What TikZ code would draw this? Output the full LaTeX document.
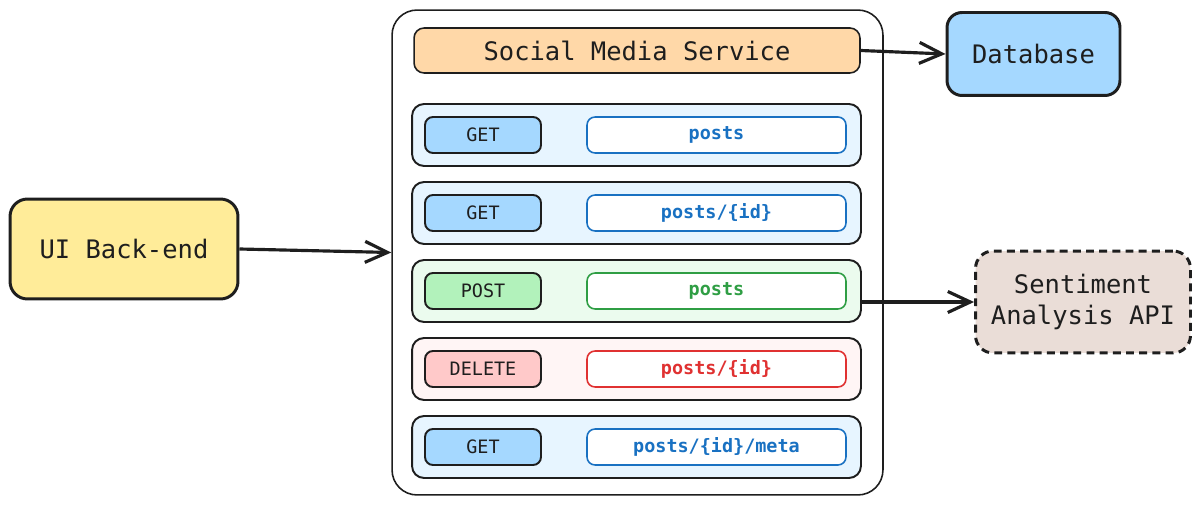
\documentclass[tikz,border=0pt]{standalone}
\usepackage{fontspec}
\setmainfont{DejaVu Sans Mono}
\usetikzlibrary{arrows.meta}

\definecolor{ink}{HTML}{1E1E1E}
\definecolor{orangefill}{HTML}{FFD8A8}
\definecolor{yellowfill}{HTML}{FFEC99}
\definecolor{bluefill}{HTML}{A5D8FF}
\definecolor{bluerow}{HTML}{E7F5FF}
\definecolor{bluetext}{HTML}{1971C2}
\definecolor{greenfill}{HTML}{B2F2BB}
\definecolor{greenrow}{HTML}{EBFBEE}
\definecolor{greentext}{HTML}{2F9E44}
\definecolor{redfill}{HTML}{FFC9C9}
\definecolor{redrow}{HTML}{FFF5F5}
\definecolor{redtext}{HTML}{E03131}
\definecolor{brownfill}{HTML}{EADDD7}

\begin{document}
\begin{tikzpicture}[x=0.02cm,y=-0.02cm,
    every node/.style={text=ink},
    bigbox/.style={draw=ink,line width=1.7pt,rounded corners=0.35cm,font=\fontsize{14.5}{18}\selectfont,align=center},
    rowbox/.style={draw=ink,line width=1.1pt,rounded corners=0.24cm,minimum width=8.98cm,minimum height=1.24cm},
    methbox/.style={draw=ink,line width=1.1pt,rounded corners=0.16cm,minimum width=2.32cm,minimum height=0.72cm,font=\fontsize{10.5}{12}\selectfont},
    pathbox/.style={draw=#1,text=#1,fill=white,line width=0.9pt,rounded corners=0.16cm,minimum width=5.18cm,minimum height=0.72cm,font=\fontsize{10.5}{12}\selectfont\bfseries},
    link/.style={draw=ink,line width=1.8pt,-{Straight Barb[length=0.45cm,width=0.42cm]}}]
    \useasboundingbox (0,0) rectangle (1200,506);

    % Service container
    \node[draw=ink,line width=0.9pt,rounded corners=0.5cm,minimum width=9.82cm,minimum height=9.7cm] (container) at (637.5,252.5) {};
    \node[draw=ink,fill=orangefill,line width=0.9pt,rounded corners=0.2cm,minimum width=8.92cm,minimum height=0.9cm,font=\fontsize{14.5}{18}\selectfont] (service) at (637,50.5) {Social Media Service};

    % Endpoints
    \node[rowbox,fill=bluerow] (row1) at (636.5,135) {};
    \node[methbox,fill=bluefill] (meth1) at (483,135) {GET};
    \node[pathbox=bluetext] (path1) at (716.5,135) {posts};

    \node[rowbox,fill=bluerow] (row2) at (636.5,213) {};
    \node[methbox,fill=bluefill] (meth2) at (483,213) {GET};
    \node[pathbox=bluetext] (path2) at (716.5,213) {posts/\{id\}};

    \node[rowbox,fill=greenrow] (row3) at (636.5,291) {};
    \node[methbox,fill=greenfill] (meth3) at (483,291) {POST};
    \node[pathbox=greentext] (path3) at (716.5,291) {posts};

    \node[rowbox,fill=redrow] (row4) at (636.5,369) {};
    \node[methbox,fill=redfill] (meth4) at (483,369) {DELETE};
    \node[pathbox=redtext] (path4) at (716.5,369) {posts/\{id\}};

    \node[rowbox,fill=bluerow] (row5) at (636.5,447) {};
    \node[methbox,fill=bluefill] (meth5) at (483,447) {GET};
    \node[pathbox=bluetext] (path5) at (716.5,447) {posts/\{id\}/meta};

    % Outside boxes
    \node[bigbox,fill=yellowfill,minimum width=4.56cm,minimum height=2.0cm] (ui) at (124,249) {UI Back-end};
    \node[bigbox,fill=bluefill,rounded corners=0.3cm,minimum width=3.46cm,minimum height=1.66cm] (db) at (1033.5,54) {Database};
    \node[bigbox,fill=brownfill,dash pattern=on 4.5pt off 3pt,minimum width=4.3cm,minimum height=2.04cm] (sentiment) at (1083,302) {Sentiment\\Analysis API};

    % Arrows
    \draw[link] (ui.east) -- (container.west);
    \draw[link] (service.east) -- (db.west);
    \draw[link] (row3.east |- sentiment.west) -- (sentiment.west);

\end{tikzpicture}
\end{document}
